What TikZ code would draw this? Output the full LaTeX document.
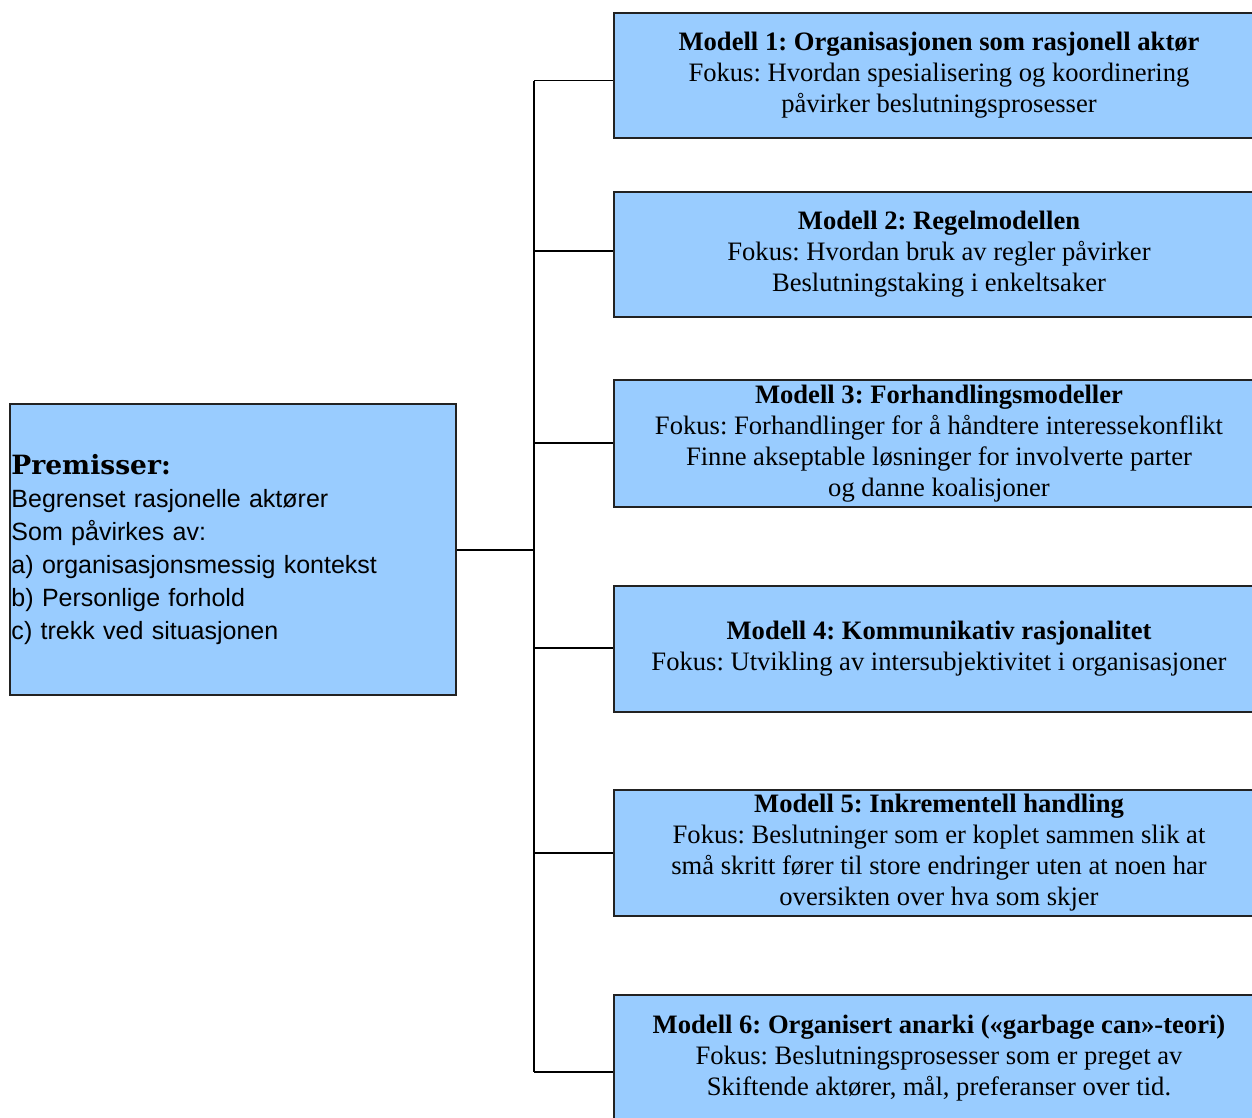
\documentclass[tikz,border=0pt]{standalone}
\usepackage{fontspec}
\setmainfont{Liberation Serif}
\newfontfamily\leftsans{Liberation Sans}
\newfontfamily\headserif{DejaVu Serif}
\definecolor{boxblue}{HTML}{99CCFF}
\definecolor{boxline}{HTML}{222222}
\frenchspacing
\begin{document}
\begin{tikzpicture}[x=1pt,y=-1pt,
  modelbox/.style={draw=boxline, line width=2pt, fill=boxblue, minimum width=650pt, inner sep=0pt,
    align=center, font=\fontsize{26.6}{31}\selectfont},
  conn/.style={draw=black, line width=1.6pt}]
\useasboundingbox (0,0) rectangle (1252,1117);
\node[draw=boxline, line width=2pt, fill=boxblue, minimum width=446pt, minimum height=291pt,
  text width=443pt, inner xsep=1.5pt, inner ysep=0pt, align=left,
  font=\leftsans\fontsize{25}{33}\selectfont] (prem) at (233,549.5)
  {{\headserif\bfseries\fontsize{26.5}{33}\selectfont Premisser:}\\
   Begrenset rasjonelle aktører\\
   Som påvirkes av:\\
   a) organisasjonsmessig kontekst\\
   b) Personlige forhold\\
   c) trekk ved situasjonen};
\node[modelbox, minimum height=125pt] (b1) at (939,75.5)
  {\textbf{Modell 1: Organisasjonen som rasjonell aktør}\\
   Fokus: Hvordan spesialisering og koordinering\\
   påvirker beslutningsprosesser};
\node[modelbox, minimum height=125pt] (b2) at (939,254.5)
  {\textbf{Modell 2: Regelmodellen}\\
   Fokus: Hvordan bruk av regler påvirker\\
   Beslutningstaking i enkeltsaker};
\node[modelbox, minimum height=127pt] (b3) at (939,443.5)
  {\textbf{Modell 3: Forhandlingsmodeller}\\
   Fokus: Forhandlinger for å håndtere interessekonflikt\\
   Finne akseptable løsninger for involverte parter\\
   og danne koalisjoner};
\node[modelbox, minimum height=126pt] (b4) at (939,649)
  {\textbf{Modell 4: Kommunikativ rasjonalitet}\\
   Fokus: Utvikling av intersubjektivitet i organisasjoner};
\node[modelbox, minimum height=126pt] (b5) at (939,853)
  {\textbf{Modell 5: Inkrementell handling}\\
   Fokus: Beslutninger som er koplet sammen slik at\\
   små skritt fører til store endringer uten at noen har\\
   oversikten over hva som skjer};
\node[modelbox, minimum height=127pt] (b6) at (939,1058.5)
  {\textbf{Modell 6: Organisert anarki («garbage can»-teori)}\\
   Fokus: Beslutningsprosesser som er preget av\\
   Skiftende aktører, mål, preferanser over tid.};
\coordinate (hub) at (534,550);
\coordinate (j1) at (534,80.5);
\coordinate (j2) at (534,251);
\coordinate (j3) at (534,443);
\coordinate (j4) at (534,648);
\coordinate (j5) at (534,853);
\coordinate (j6) at (534,1072);
\draw[conn] (prem.east |- hub) -- (hub);
\draw[conn] (j1) -- (j6);
\draw[conn] (j1) -- (j1 -| b1.west);
\draw[conn] (j2) -- (j2 -| b2.west);
\draw[conn] (j3) -- (j3 -| b3.west);
\draw[conn] (j4) -- (j4 -| b4.west);
\draw[conn] (j5) -- (j5 -| b5.west);
\draw[conn] (j6) -- (j6 -| b6.west);
\end{tikzpicture}
\end{document}
